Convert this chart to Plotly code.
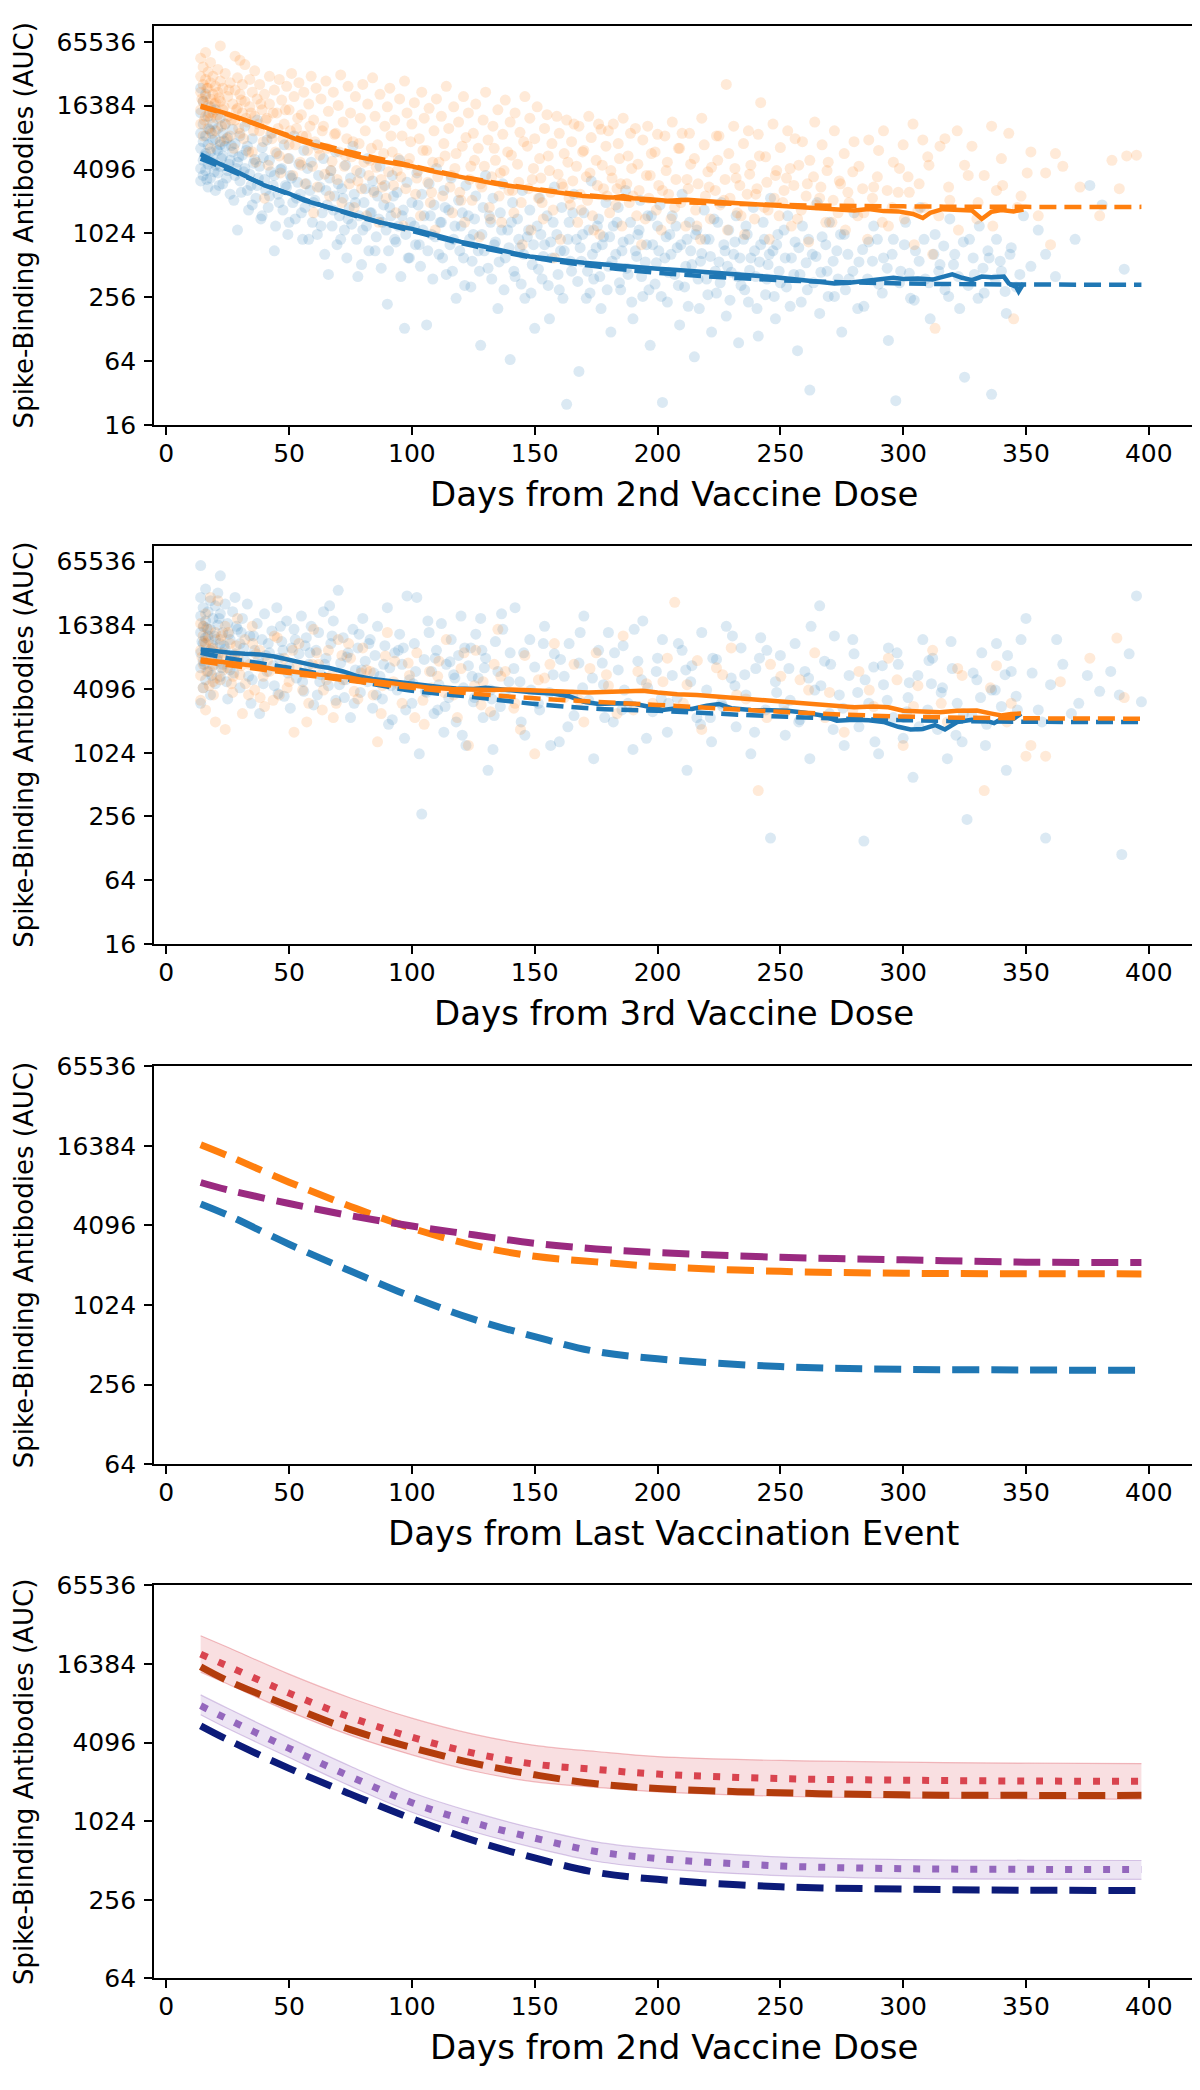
import math
import plotly.graph_objects as go

# ---------------- DATA ----------------
TICKS_Y_A = [16, 64, 256, 1024, 4096, 16384, 65536]
TICKS_Y_B = [64, 256, 1024, 4096, 16384, 65536]
TICKS_X = [0, 50, 100, 150, 200, 250, 300, 350, 400]

XLABELS = ["Days from 2nd Vaccine Dose", "Days from 3rd Vaccine Dose",
           "Days from Last Vaccination Event", "Days from 2nd Vaccine Dose"]
YLABEL = "Spike-Binding Antibodies (AUC)"

# Panel 1 scatter (days, AUC)
p1_orange_pts = [(14,46000),(14,31000),(14,22000),(14,15000),(14,11000),(15,38000),(15,26000),(15,18000),(15,8500),(16,52000),(16,29000),(16,20000),(16,13000),(17,34000),(17,24000),(17,16500),(17,10000),(18,42000),(18,27000),(18,19000),(18,12500),(18,6500),(19,31000),(19,21000),(19,14000),(20,25000),(20,17500),(20,9500),(21,36000),(21,22000),(21,13500),(22,60000),(22,28000),(22,18000),(22,7500),(23,24000),(23,15000),(24,33000),(24,11000),(25,20000),(25,13000),(26,27000),(26,8500),(27,17000),(28,48000),(28,23000),(28,12000),(29,30000),(29,15500),(30,44000),(30,21000),(30,9000),(31,26000),(31,14000),(32,40000),(32,18000),(33,11500),(34,29000),(34,16000),(35,22000),(35,6000),(36,35000),(36,13000),(37,19000),(38,26000),(38,9500),(39,15000),(40,21000),(40,2200),(41,12500),(42,31000),(42,17000),(43,8000),(44,23000),(45,14000),(46,29000),(46,5500),(47,18500),(48,11000),(49,25000),(50,15000),(50,7000),(51,33000),(52,20000),(53,10000),(54,27000),(55,13500),(55,4500),(56,22000),(57,8500),(58,17000),(59,31000),(60,12000),(60,1600),(61,24000),(62,6500),(63,19000),(64,10500),(65,28000),(66,14500),(67,4000),(68,22000),(69,9000),(70,16500),(71,32000),(72,11500),(73,5500),(74,25000),(75,14000),(76,7500),(77,20000),(78,3200),(79,12500),(80,26000),(81,9500),(82,17000),(83,5000),(84,30000),(85,13000),(86,7000),(87,21000),(88,2800),(89,10500),(90,16000),(91,24000),(92,6000),(93,12000),(94,4000),(95,19000),(96,8500),(97,28000),(98,14000),(99,5200),(100,11000),(101,17500),(102,3400),(103,8000),(104,22000),(105,12500),(106,6200),(107,15500),(108,2500),(109,9500),(110,19000),(111,4800),(112,13000),(113,7200),(114,25000),(115,10000),(116,3600),(117,16000),(118,5800),(119,11500),(120,2100),(121,20000),(122,8200),(123,14000),(124,4400),(125,9000),(126,17000),(127,6500),(128,3000),(129,12000),(130,22000),(131,7800),(132,1400),(133,10500),(134,5000),(135,15000),(136,3800),(137,8800),(138,18500),(139,6000),(140,11500),(141,2600),(142,14000),(143,4600),(144,9200),(145,800),(146,20000),(147,6800),(148,12500),(149,3300),(150,8000),(151,16000),(152,5200),(153,2000),(154,10000),(155,13500),(156,4000),(157,7200),(158,600),(159,13000),(160,9000),(161,3000),(162,5800),(163,12000),(164,2200),(165,7500),(166,11000),(167,4400),(168,10500),(169,1700),(170,6200),(171,3500),(172,13000),(173,8200),(174,1100),(175,5000),(176,11000),(177,9800),(178,2700),(179,6800),(180,9500),(181,4000),(182,11000),(183,1900),(184,7200),(185,3000),(186,12500),(188,5500),(189,9000),(190,2300),(191,10000),(192,4600),(194,7800),(195,1400),(196,10500),(197,3600),(199,6000),(200,8800),(202,2600),(203,8500),(204,4800),(206,11500),(207,1800),(209,6500),(210,9000),(212,3300),(213,9000),(215,5200),(216,1200),(218,12500),(219,7000),(221,2800),(222,4300),(224,8500),(225,8500),(227,2100),(228,26000),(229,5800),(231,10500),(232,3400),(234,1500),(235,7200),(237,9500),(238,4500),(240,2400),(241,8800),(242,17500),(244,5400),(245,1700),(247,11000),(248,3600),(250,6600),(251,2000),(253,9500),(254,4200),(256,8000),(257,1400),(259,7500),(261,3000),(262,5000),(264,11500),(266,2200),(267,7000),(269,4000),(271,1300),(272,9500),(274,3200),(276,5800),(278,2000),(280,7500),(282,4400),(284,1600),(286,7800),(288,2800),(290,6200),(292,9500),(294,1200),(296,4800),(298,2500),(300,7000),(302,3500),(304,11000),(306,1700),(308,7800),(310,5400),(312,650),(313,130),(315,6800),(317,8000),(319,2100),(322,9500),(325,4500),(328,6800),(330,1400),(333,3600),(336,10500),(338,2600),(340,5200),(343,9000),(345,160),(348,2300),(352,6000),(355,1500),(358,3800),(360,800),(362,5800),(365,4400),(372,2800),(380,1500),(385,5000),(388,2700),(391,5500),(395,5600)]
p1_orange_pts_b = [(14.5,19000),(15.5,12000),(16.5,24000),(17.5,14000),(18.5,9000),(19.5,17000),(20.5,12500),(21.5,19500),(22.5,10500),(23.5,16000),(24.5,8000),(25.5,23000),(26.5,12000),(27.5,6500),(28.5,15000),(29.5,10000),(30.5,18500),(31.5,8000),(32.5,12500),(33.5,6000),(34.5,14000),(35.5,9500),(36.5,4800),(37.5,11000),(38.5,17000),(39.5,7500),(40.5,12000),(41.5,4500),(42.5,9000),(43.5,14000),(44.5,6000),(45.5,10000),(46.5,3800),(47.5,8000),(48.5,15000),(49.5,5200),(50.5,9500),(51.5,3600),(52.5,7000),(53.5,12500),(54.5,4800),(55.5,8500),(56.5,3000),(57.5,6200),(58.5,10500),(59.5,4400),(60.5,7500),(61.5,2800),(62.5,5600),(63.5,9500),(64.5,3700),(65.5,6500),(66.5,2300),(67.5,4900),(68.5,8800),(69.5,3300),(70.5,6000),(71.5,2000),(72.5,4400),(73.5,8000),(74.5,3000),(75.5,5400),(76.5,1800),(77.5,4000),(78.5,7200),(79.5,2700),(80.5,4800),(81.5,1500),(82.5,3600),(83.5,6500),(84.5,2500),(85.5,4300),(86.5,1300),(87.5,3300),(88.5,5800),(89.5,2200),(90.5,3900),(91.5,8500),(92.5,2900),(93.5,1600),(94.5,5200),(95.5,3500),(96.5,1200),(97.5,2700),(98.5,4600),(99.5,7500),(101.5,2400),(102.5,4000),(103.5,1500),(104.5,6200),(106.5,3100),(107.5,2000),(108.5,4800),(109.5,1100),(110.5,3500),(112.5,2300),(113.5,5500),(115.5,2800),(116.5,1600),(117.5,4200),(119.5,2500),(120.5,6800),(121.5,1300),(123.5,3300),(124.5,2100),(125.5,5000),(127.5,950),(128.5,2800),(129.5,4400),(131.5,1800),(132.5,3500),(133.5,6500),(135.5,2300),(136.5,1300),(137.5,4000),(139.5,2600),(140.5,5600),(141.5,1600),(143.5,3100),(144.5,2000),(145.5,7500),(147.5,2700),(148.5,1100),(149.5,4200),(151.5,2200),(152.5,3400),(153.5,1400),(155.5,5500),(156.5,2500),(157.5,1700),(159.5,3700),(160.5,900),(161.5,2800),(163.5,4800),(164.5,1900),(165.5,3200),(167.5,1300),(168.5,2400),(169.5,6000),(171.5,2100),(172.5,3800),(173.5,1500),(175.5,2900),(176.5,1000),(177.5,4500),(179.5,2300),(180.5,1600),(181.5,3400),(183.5,2700),(184.5,5200),(185.5,1200),(187.5,3000),(188.5,2000),(189.5,4200),(191.5,1500),(192.5,2600),(193.5,800),(195.5,3600),(196.5,2200),(197.5,5800),(199.5,1700),(200.5,2900),(201.5,1100),(203.5,4000),(204.5,2400),(205.5,1400),(207.5,3300),(208.5,6500),(209.5,2000),(211.5,1200),(212.5,2700),(213.5,4600),(215.5,1700),(216.5,3000),(217.5,900),(219.5,2300),(220.5,3900),(221.5,1400),(223.5,2600),(224.5,5000),(225.5,1900),(227.5,3300),(228.5,1100),(229.5,2200),(231.5,4200),(232.5,1600),(233.5,2900),(235.5,1000),(236.5,2400),(237.5,3700),(239.5,1400),(240.5,2700),(241.5,5500),(243.5,1800),(244.5,3100),(245.5,900),(247.5,2200),(248.5,4000),(249.5,1500),(251.5,2600),(252.5,3400),(254.5,1200),(255.5,2900),(257.5,4500),(258.5,1700),(260.5,2300),(261.5,850),(263.5,3500),(264.5,1900),(266.5,2800),(268.5,1300),(269.5,4800),(271.5,2100),(273.5,1600),(274.5,3000),(276.5,1100),(277.5,2500),(279.5,3900),(281.5,1500),(283.5,2700),(285.5,900),(287.5,2200),(289.5,3500),(291.5,1300),(293.5,2600),(295.5,1800),(298.5,4200),(300.5,1400),(302.5,2500),(304.5,800),(306.5,3000),(308.5,1800),(310.5,4500),(314.5,1500),(318.5,2800),(322.5,1100),(326.5,3600),(330.5,2000),(336.5,1200),(340.5,2900),(346.5,1800),(350.5,3800)]

p1_blue_pts = [(14,24000),(14,14000),(14,9000),(14,6500),(14,4200),(14,3200),(15,18000),(15,11000),(15,7500),(15,5000),(15,3600),(16,21000),(16,8500),(16,5800),(16,4000),(17,13000),(17,7000),(17,4600),(17,2800),(18,16000),(18,9500),(18,6000),(18,3400),(19,11000),(19,7800),(19,5200),(20,15000),(20,8000),(20,4500),(20,2600),(21,10000),(21,6200),(21,3800),(22,12500),(22,7000),(22,4400),(23,9000),(23,5500),(23,3000),(24,11000),(24,6800),(25,4000),(25,8200),(26,5000),(26,2400),(27,9800),(27,6000),(28,3600),(28,7200),(29,4800),(29,1100),(30,8500),(30,3200),(31,5600),(32,10500),(32,4200),(33,2600),(33,6800),(34,3700),(35,8000),(35,1900),(36,5100),(37,2900),(37,12000),(38,4400),(39,6600),(39,1500),(40,3300),(41,7800),(42,2300),(42,5000),(43,9000),(44,3600),(44,700),(45,5800),(46,2000),(47,4200),(48,7000),(49,2800),(50,1300),(50,5200),(51,3400),(52,8500),(53,2200),(54,4600),(55,1600),(56,6200),(57,3000),(58,900),(59,4800),(60,2000),(61,7000),(62,3600),(63,1200),(64,5200),(65,2600),(66,420),(67,4000),(68,1700),(69,6000),(70,3000),(71,900),(72,2200),(73,4500),(74,1400),(75,3400),(76,6800),(77,2000),(78,400),(79,3800),(80,1100),(81,2700),(82,5200),(83,1600),(84,3200),(85,700),(86,2300),(87,4400),(88,1300),(89,2900),(90,220),(91,1800),(92,3600),(93,900),(94,2500),(95,5000),(96,1500),(97,130),(98,3100),(99,600),(100,2000),(101,1200),(102,3800),(103,800),(104,2400),(105,1500),(106,140),(107,3000),(108,1000),(109,1900),(110,4200),(111,650),(112,1300),(113,2600),(114,420),(115,1700),(116,3400),(117,900),(118,250),(119,2100),(120,1200),(121,600),(122,2900),(123,1500),(124,320),(125,1000),(126,2300),(127,700),(128,90),(129,1800),(130,3600),(131,480),(132,1300),(133,2200),(134,850),(135,200),(136,1600),(137,3000),(138,600),(139,1100),(140,66),(141,2000),(142,400),(143,1400),(144,750),(145,2600),(146,250),(147,950),(148,1700),(149,520),(150,130),(151,1200),(152,2200),(153,380),(154,800),(155,1500),(156,160),(157,600),(158,2800),(159,1000),(160,300),(161,1800),(162,700),(163,25),(164,1300),(165,450),(166,2400),(167,900),(168,51),(169,560),(170,1600),(171,250),(172,1100),(173,3200),(174,380),(175,750),(176,1400),(177,200),(178,950),(179,2000),(180,500),(181,120),(182,1200),(183,650),(184,1800),(185,300),(186,850),(187,2600),(188,420),(189,1300),(190,160),(191,700),(192,1000),(193,2100),(194,260),(195,550),(196,1500),(197,90),(198,800),(199,340),(200,1200),(201,1900),(202,26),(203,600),(204,230),(205,1000),(206,1500),(207,420),(208,750),(209,140),(210,2400),(211,320),(212,900),(213,1300),(214,520),(215,70),(216,1100),(217,200),(218,660),(219,1700),(220,380),(221,900),(222,120),(223,1400),(224,280),(225,550),(226,2000),(227,800),(228,170),(229,1100),(230,440),(231,650),(232,1500),(233,95),(234,330),(235,900),(236,1200),(237,230),(238,600),(239,1800),(240,400),(241,110),(242,800),(243,1300),(244,270),(245,520),(246,2200),(247,700),(248,160),(249,1000),(250,350),(252,600),(253,1500),(254,210),(256,850),(257,80),(258,420),(259,1200),(261,300),(262,34),(263,650),(265,2000),(266,180),(267,950),(269,450),(270,1300),(272,260),(273,700),(275,120),(276,1000),(278,380),(280,1600),(282,550),(284,210),(286,850),(288,1200),(290,340),(292,600),(294,100),(296,900),(297,27),(299,450),(301,1300),(303,250),(305,700),(307,1800),(309,380),(311,160),(313,1000),(315,520),(317,300),(319,1400),(321,650),(323,200),(325,45),(327,900),(329,420),(331,1200),(333,280),(335,600),(336,31),(338,900),(340,450),(342,180),(344,750),(346,320),(349,1500),(352,500),(355,1100),(358,650),(362,400),(370,900),(376,2900),(381,1900),(390,470)]
p1_blue_pts_b = [(15.5,5500),(16.5,3300),(17.5,9800),(18.5,4800),(19.5,3900),(20.5,6400),(21.5,2900),(22.5,5200),(23.5,7600),(24.5,3400),(25.5,4600),(26.5,6900),(27.5,2100),(28.5,4200),(29.5,5400),(30.5,2500),(31.5,3900),(32.5,6200),(33.5,1700),(34.5,2900),(35.5,4700),(36.5,2200),(37.5,3400),(38.5,1400),(39.5,5300),(40.5,2600),(41.5,1800),(42.5,3900),(43.5,2900),(44.5,1200),(45.5,2400),(46.5,4100),(47.5,1700),(48.5,2900),(49.5,1000),(50.5,3600),(51.5,2000),(52.5,1400),(53.5,3100),(54.5,2400),(55.5,900),(56.5,1800),(57.5,4200),(58.5,2600),(59.5,1300),(60.5,2100),(61.5,1000),(62.5,2800),(63.5,1600),(64.5,650),(65.5,1900),(66.5,3400),(67.5,1200),(68.5,2300),(69.5,800),(70.5,1500),(71.5,2700),(72.5,1100),(73.5,600),(74.5,1800),(75.5,1250),(76.5,2400),(77.5,900),(78.5,1500),(79.5,520),(80.5,2000),(81.5,1200),(82.5,700),(83.5,1600),(84.5,2600),(85.5,950),(86.5,1400),(87.5,480),(88.5,1900),(89.5,1100),(90.5,700),(91.5,1500),(92.5,2300),(93.5,850),(94.5,1200),(95.5,400),(96.5,1700),(97.5,1000),(98.5,600),(99.5,1300),(101.5,800),(102.5,1900),(103.5,500),(104.5,1100),(106.5,700),(107.5,1500),(108.5,380),(109.5,950),(111.5,1300),(112.5,600),(113.5,1800),(115.5,800),(116.5,450),(117.5,1200),(119.5,700),(120.5,1600),(121.5,330),(123.5,900),(124.5,560),(125.5,1400),(127.5,450),(128.5,1000),(129.5,700),(131.5,1500),(132.5,380),(133.5,800),(135.5,550),(136.5,1100),(137.5,300),(139.5,750),(140.5,1300),(141.5,450),(143.5,900),(144.5,340),(145.5,650),(147.5,1100),(148.5,280),(149.5,800),(151.5,470),(152.5,1000),(153.5,620),(155.5,330),(156.5,850),(157.5,1300),(159.5,420),(160.5,700),(161.5,250),(163.5,900),(164.5,560),(165.5,1600),(167.5,360),(168.5,750),(169.5,1000),(171.5,450),(172.5,280),(173.5,650),(175.5,1200),(176.5,400),(177.5,800),(179.5,300),(180.5,950),(181.5,560),(183.5,1300),(184.5,350),(185.5,700),(187.5,480),(188.5,900),(189.5,230),(191.5,620),(192.5,1100),(193.5,400),(195.5,800),(196.5,300),(197.5,1500),(199.5,540),(200.5,700),(201.5,260),(203.5,950),(204.5,440),(205.5,650),(207.5,1200),(208.5,330),(209.5,800),(211.5,500),(212.5,210),(213.5,700),(215.5,1000),(216.5,380),(217.5,560),(219.5,900),(220.5,270),(221.5,620),(223.5,450),(224.5,1300),(225.5,350),(227.5,700),(228.5,500),(229.5,240),(231.5,850),(232.5,400),(233.5,600),(235.5,300),(236.5,1000),(237.5,460),(239.5,700),(240.5,200),(241.5,550),(243.5,900),(244.5,380),(245.5,650),(247.5,260),(248.5,800),(249.5,450),(251.5,1100),(252.5,320),(254.5,600),(255.5,420),(257.5,750),(258.5,230),(260.5,540),(261.5,900),(263.5,350),(264.5,620),(266.5,440),(268.5,800),(269.5,260),(271.5,560),(273.5,380),(274.5,1000),(276.5,300),(277.5,650),(279.5,450),(281.5,200),(283.5,720),(285.5,380),(287.5,560),(289.5,900),(291.5,280),(293.5,480),(295.5,650),(298.5,350),(300.5,800),(302.5,430),(304.5,240),(306.5,560),(308.5,900),(310.5,350),(312.5,650),(314.5,450),(316.5,780),(318.5,260),(320.5,520),(322.5,400),(324.5,850),(326.5,330),(328.5,600),(330.5,250),(332.5,480),(334.5,700),(337.5,380),(339.5,560),(341.5,290),(343.5,650),(347.5,420)]

# Panel 2 scatter (days, AUC)
p2_blue_pts = [(14,60000),(14,30000),(14,20000),(14,14000),(14,9000),(14,6500),(14,3000),(15,24000),(15,16000),(15,11000),(15,7500),(15,4200),(16,36000),(16,18000),(16,12500),(16,8000),(16,5000),(17,22000),(17,13000),(17,6000),(18,28000),(18,15000),(18,9500),(18,3600),(19,19000),(19,10500),(19,6800),(20,25000),(20,12000),(20,4600),(21,33000),(21,16500),(21,8500),(22,48000),(22,21000),(22,11000),(22,5400),(23,14000),(23,7000),(24,26000),(24,9800),(25,17000),(25,3300),(26,12000),(26,6200),(27,22000),(28,30000),(28,8800),(29,15000),(30,4200),(30,11000),(31,19000),(32,7600),(33,26000),(34,13000),(35,5000),(36,9500),(37,17000),(38,7000),(38,2400),(39,12000),(40,21000),(41,6000),(42,9000),(43,14500),(44,4400),(45,24000),(46,8000),(47,11500),(48,3500),(49,18000),(50,6600),(51,10000),(52,15000),(53,5200),(54,8800),(55,20000),(56,3900),(57,12500),(58,7000),(59,16000),(60,2900),(61,9500),(62,14000),(63,5600),(64,22000),(65,8000),(66,4400),(67,11000),(68,18000),(69,3200),(70,35000),(71,7200),(72,12500),(73,5000),(74,9000),(75,2200),(76,15000),(77,6200),(78,10000),(79,3800),(80,19000),(81,7500),(82,4800),(83,12000),(84,2700),(85,8500),(86,16000),(87,5400),(88,3300),(89,10500),(90,24000),(91,6500),(92,2100),(93,9000),(94,4000),(95,13500),(96,7000),(97,1400),(98,31000),(99,5000),(100,3000),(101,11000),(102,30000),(103,1000),(104,270),(105,7800),(106,3800),(107,14000),(108,6000),(109,2400),(110,9500),(111,4500),(112,17000),(113,1600),(114,7000),(115,3400),(116,12000),(117,5600),(118,2000),(119,8500),(120,20000),(121,4200),(122,1200),(123,6800),(124,10000),(125,3100),(126,13500),(127,5200),(128,19000),(129,2200),(130,8000),(131,700),(132,4000),(133,1100),(134,11500),(135,6000),(136,2800),(137,15000),(138,3600),(140,9000),(142,24000),(144,4800),(146,1500),(148,12000),(150,6600),(152,2600),(154,16000),(156,3800),(158,8800),(160,1300),(162,5400),(164,11000),(166,2300),(168,7200),(170,20000),(172,3200),(174,900),(176,9500),(178,4500),(180,14000),(182,2000),(184,6200),(186,10500),(188,3000),(190,1100),(192,7500),(194,18000),(196,4200),(198,2500),(200,8000),(202,12000),(204,1600),(206,5500),(208,3400),(210,9500),(212,700),(214,6800),(216,2200),(218,14000),(220,4000),(222,1300),(224,7800),(226,3000),(228,16000),(230,5200),(232,1800),(234,10000),(236,3600),(238,1000),(240,6400),(242,12500),(244,2600),(246,160),(248,4800),(250,8500),(252,1500),(254,3200),(256,11000),(258,2100),(260,6000),(262,900),(264,4000),(266,25000),(268,7500),(270,2400),(272,13000),(274,3600),(276,1200),(278,5500),(280,8800),(282,1800),(284,150),(286,3000),(288,6600),(290,1000),(292,4500),(294,10000),(296,2200),(298,7000),(300,1400),(302,3400),(304,600),(306,5500),(308,12000),(310,2600),(312,8000),(314,1700),(316,4200),(318,900),(320,6400),(322,3000),(324,1300),(326,240),(328,2300),(330,5000),(332,9000),(334,1900),(336,4000),(338,11000),(340,2800),(342,700),(344,6000),(346,3500),(348,12000),(350,19000),(355,2600),(358,160),(360,4500),(365,7000),(375,5500),(380,3900),(388,3600),(389,112),(392,8800),(395,31000),(397,3100)]
p2_blue_pts_b = [(14.5,11500),(15.5,7000),(16.5,15500),(17.5,9000),(18.5,5500),(19.5,13000),(20.5,8000),(21.5,19000),(22.5,6500),(23.5,10500),(24.5,4800),(25.5,13500),(26.5,8500),(27.5,5800),(28.5,16000),(29.5,7200),(31.5,10000),(33.5,5400),(35.5,13000),(37.5,7800),(39.5,4600),(41.5,11000),(43.5,6800),(45.5,3700),(47.5,9500),(49.5,5800),(52.5,12000),(55.5,4800),(58.5,9000),(61.5,3600),(64.5,7000),(67.5,13000),(70.5,4500),(73.5,8200),(76.5,3000),(79.5,6200),(82.5,11000),(85.5,3600),(88.5,7000),(91.5,4400),(94.5,9500),(97.5,2600),(101.5,6000),(105.5,3900),(109.5,8000),(113.5,2800),(117.5,5200),(121.5,10000),(125.5,3400),(129.5,6500),(133.5,2300),(139.5,4800),(145.5,9000),(151.5,3000),(157.5,5600),(163.5,1800),(169.5,4200),(177.5,7200),(185.5,2600),(193.5,5000),(201.5,3300),(211.5,6200),(221.5,2200),(231.5,4400),(241.5,8000),(251.5,2900),(261.5,5200),(271.5,1700),(281.5,3800),(291.5,6800),(301.5,2500),(311.5,4600),(321.5,1500),(331.5,3400),(341.5,5600),(356.5,2000),(371.5,3000)]
p2_blue_pts_c = [(30.5,14000),(34.5,3000),(40.5,8500),(46.5,16000),(50.5,2700),(56.5,10500),(62.5,4800),(66.5,25000),(72.5,3400),(78.5,13500),(84.5,5800),(90.5,1900),(96.5,10000),(100.5,4600),(106.5,18000),(110.5,2600),(115.5,7400),(120.5,1500),(124.5,5400),(128.5,9500),(132.5,3300),(136.5,21000),(141.5,6400),(144.5,2000),(148.5,4000),(153.5,11000),(156.5,1200),(160.5,7800),(165.5,3600),(168.5,14000),(173.5,5200),(178.5,2200),(182.5,9000),(186.5,4000),(190.5,15000),(195.5,1400),(199.5,6000),(204.5,3000),(208.5,11000),(213.5,4800),(217.5,1900),(222.5,8000),(226.5,2800),(230.5,13000),(235.5,5600),(239.5,1600),(244.5,9500),(248.5,3800),(253.5,6400),(257.5,2000),(262.5,16000),(266.5,4400),(270.5,7000),(275.5,2700),(279.5,12000),(284.5,5000),(288.5,1300),(293.5,3200),(297.5,9000),(302.5,4700),(306.5,1800),(310.5,7600),(315.5,3800),(319.5,11500),(324.5,2400),(328.5,5800),(333.5,1200),(337.5,4000),(342.5,8500),(346.5,2600),(352.5,5800),(362.5,12000),(368.5,2400),(384.5,6000)]

p2_orange_pts = [(14,17000),(14,9500),(14,5500),(14,3200),(15,13000),(15,7000),(15,4200),(16,21000),(16,11000),(16,2600),(17,8000),(17,15000),(18,6000),(18,30000),(19,10000),(19,4800),(20,14000),(20,2000),(21,7500),(21,28000),(22,12000),(22,5000),(23,9000),(24,1700),(24,16000),(25,6500),(26,11000),(27,3800),(28,8500),(29,19000),(30,5600),(31,2400),(32,12000),(34,7000),(35,16000),(36,4000),(38,9500),(40,2800),(42,6000),(44,13000),(46,3600),(48,8000),(50,4800),(52,1600),(54,11000),(56,5800),(58,3000),(60,15000),(62,7000),(64,4000),(66,9500),(68,2200),(70,12000),(72,5000),(75,8000),(78,3300),(80,10000),(83,6000),(86,1300),(88,4400),(90,14000),(93,7500),(96,3000),(99,5500),(102,9000),(105,1900),(108,4200),(111,7500),(114,12000),(117,3600),(120,6400),(123,1200),(126,9500),(129,4800),(132,2500),(135,15000),(138,6000),(142,3000),(146,8500),(150,1000),(154,5200),(158,11000),(162,3400),(166,7000),(170,2000),(175,9000),(180,4400),(186,13000),(192,6000),(198,3000),(204,8000),(207,27000),(212,4500),(218,1700),(224,6500),(230,10000),(236,3300),(241,450),(246,7000),(252,2500),(258,5000),(264,9000),(270,3800),(276,1600),(282,6000),(288,2800),(294,8000),(300,1200),(306,4400),(312,9500),(318,2000),(324,5500),(333,450),(338,6800),(344,3000),(350,950),(352,1200),(358,950),(364,4800),(376,8000),(387,12400),(390,3400)]
p2_orange_pts_b = [(14.5,8200),(15.5,11500),(16.5,6000),(17.5,4400),(18.5,9800),(19.5,7000),(20.5,5200),(22.5,13000),(24.5,7800),(26.5,4600),(28.5,10500),(30.5,6800),(33.5,3600),(36.5,8800),(39.5,5400),(43.5,3200),(47.5,6400),(51.5,9500),(55.5,4000),(59.5,7000),(63.5,2600),(67.5,5600),(71.5,8500),(76.5,3900),(81.5,6200),(87.5,2400),(92.5,4800),(98.5,7200),(104.5,3200),(110.5,5400),(118.5,2200),(125.5,4400),(133.5,7000),(141.5,2700),(151.5,5000),(161.5,3600),(172.5,6400),(183.5,2400),(195.5,4600),(210.5,3000),(226.5,5600),(244.5,2200),(261.5,4000),(279.5,2600),(297.5,5000),(315.5,3000),(335.5,4200)]
p2_orange_pts_c = [(15.2,16000),(17.2,12000),(19.2,3600),(21.2,9000),(23.2,6200),(25.2,14000),(27.2,5400),(29.2,8200),(32.2,4600),(35.2,11000),(38.2,3400),(41.2,7600),(45.2,12500),(49.2,4200),(53.2,6800),(57.2,2000),(61.2,9000),(65.2,5000),(69.2,3000),(74.2,11000),(79.2,5800),(84.2,3600),(89.2,8400),(95.2,4400),(101.2,2200),(107.2,6000),(113.2,3800),(121.2,9000),(128.2,2900),(136.2,5400),(144.2,1700),(156.2,7000),(168.2,3200),(179.2,5600),(190.2,2600),(202.2,4800),(216.2,7600),(232.2,3600),(250.2,5400),(268.2,2200),(286.2,4000),(304.2,2800),(322.2,6400),(342.2,2000)]

# Running (solid) lines (days, AUC)
p1_orange_run = [(14,16400),(18,15500),(22,14500),(26,13500),(30,12500),(35,11200),(40,10300),(45,9300),(50,8300),(55,7600),(60,7000),(66,6400),(72,5900),(78,5400),(85,5000),(92,4700),(100,4400),(107,4000),(114,3700),(120,3450),(127,3250),(134,3000),(141,2850),(148,2700),(155,2550),(162,2420),(170,2300),(176,2260),(182,2230),(186,2300),(190,2200),(197,2150),(204,2080),(212,2120),(220,2040),(228,2000),(236,1950),(244,1900),(252,1870),(260,1800),(268,1760),(275,1700),(280,1680),(286,1740),(292,1660),(298,1650),(304,1560),(308,1430),(311,1600),(316,1730),(322,1700),(328,1680),(332,1400),(336,1640),(340,1700),(345,1650),(349,1720)]
p1_blue_run = [(14,5700),(18,5100),(22,4600),(26,4200),(30,3800),(35,3300),(40,2900),(45,2650),(50,2430),(56,2100),(62,1900),(68,1750),(74,1600),(80,1450),(87,1300),(94,1200),(100,1130),(107,1020),(114,920),(120,850),(127,790),(134,720),(141,670),(148,620),(155,590),(162,560),(170,540),(176,525),(184,505),(192,490),(200,475),(208,462),(216,450),(224,432),(232,418),(240,408),(248,395),(256,380),(264,365),(272,345),(278,350),(284,362),(290,370),(296,390),(300,380),(306,385),(312,375),(316,400),(320,420),(324,390),(328,370),(332,400),(336,395),(341,400),(343,345),(346,320),(347,290),(349,345)]
p2_blue_run = [(14,9700),(20,9300),(26,9000),(32,8800),(38,8700),(44,8300),(50,7800),(56,7200),(62,6700),(66,6500),(72,6000),(78,5400),(84,5100),(90,4900),(96,4700),(100,4560),(106,4400),(112,4250),(118,4150),(125,4100),(130,4200),(136,4050),(142,3950),(150,3800),(158,3700),(164,3500),(170,3100),(176,2960),(184,3000),(191,2960),(196,2800),(202,2600),(208,2700),(214,2650),(220,2850),(225,2960),(230,2700),(238,2600),(246,2580),(253,2550),(260,2450),(267,2300),(273,2050),(280,2100),(286,2080),(292,2000),(298,1800),(303,1700),(308,1720),(313,1870),(317,1700),(322,2000),(328,2100),(333,2080),(337,1950),(341,2200),(345,2150),(348,2400)]
p2_orange_run = [(14,7800),(20,7500),(26,7300),(32,7000),(38,6700),(44,6300),(50,6000),(56,5800),(62,5600),(68,5500),(74,5300),(80,5000),(86,4800),(92,4600),(100,4400),(108,4200),(116,4100),(124,4050),(132,4000),(140,4050),(148,3950),(156,3900),(164,3850),(172,3800),(180,3820),(188,3900),(194,3950),(200,3800),(208,3650),(216,3600),(224,3480),(232,3350),(240,3300),(248,3150),(256,3100),(264,2950),(272,2850),(280,2750),(288,2800),(294,2750),(300,2550),(308,2500),(315,2470),(322,2550),(330,2560),(336,2400),(340,2300),(344,2380),(348,2400)]

# Model fits (dashed / dotted), shared day grid
FIT_DAYS = [14, 25, 50, 75, 100, 125, 150, 175, 200, 250, 300, 350, 397]
p1_orange_fit = [16000, 13500, 8600, 6000, 4450, 3350, 2700, 2300, 2070, 1900, 1840, 1820, 1820]
p1_blue_fit = [5200, 4100, 2400, 1550, 1080, 780, 600, 500, 435, 370, 345, 337, 336]
p2_blue_fit = [9000, 8000, 6500, 5000, 3950, 3440, 2960, 2670, 2550, 2250, 2080, 2010, 2000]
p2_orange_fit = [7500, 6900, 5800, 4900, 4200, 3700, 3350, 3100, 2900, 2500, 2250, 2170, 2150]
p3_orange = [16700, 13800, 8700, 5700, 3900, 2900, 2390, 2170, 2000, 1840, 1780, 1765, 1760]
p3_purple = [8650, 7600, 6000, 4850, 4050, 3480, 3000, 2720, 2550, 2350, 2250, 2160, 2150]
p3_blue = [5950, 4900, 2950, 1850, 1180, 800, 590, 455, 401, 350, 334, 330, 328]
p4_red_dash = [15600, 12200, 7800, 5150, 3750, 2850, 2320, 1980, 1820, 1690, 1630, 1615, 1615]
p4_red_dot = [19500, 15800, 9800, 6400, 4500, 3400, 2800, 2550, 2350, 2170, 2110, 2080, 2070]
p4_red_hi = [27000, 22000, 13700, 9000, 6300, 4750, 3900, 3500, 3200, 2990, 2900, 2850, 2830]
p4_red_lo = [14200, 11500, 7100, 4650, 3300, 2480, 2050, 1860, 1720, 1590, 1540, 1520, 1510]
p4_navy_dash = [5500, 4300, 2600, 1650, 1070, 730, 535, 415, 367, 322, 309, 303, 302]
p4_purple_dot = [7850, 6200, 3700, 2250, 1420, 1000, 760, 600, 530, 465, 443, 438, 436]
p4_purple_hi = [9500, 7500, 4450, 2700, 1700, 1200, 900, 710, 625, 545, 520, 514, 512]
p4_purple_lo = [6700, 5250, 3150, 1900, 1200, 850, 640, 505, 445, 392, 373, 368, 367]

# ---------------- STYLE ----------------
BLUE = "#1f77b4"
ORANGE = "#ff7f0e"
PURPLE3 = "#9a2a80"
RED_DASH = "#b33c0c"
RED_DOT = "#d9444f"
NAVY = "#0c1b79"
PURPLE_DOT = "#9467bd"
FONT = "DejaVu Sans"
OFF = 8                      # page body margin of the html page
W, H = 1200 - OFF, 2090 - OFF
X0, X1 = 154 - OFF, 1193 - OFF
PANELS = [(12, 416.5), (539, 943), (1067, 1470.5), (1593.5, 1992)]
XTITLE_Y = [487, 1013, 1540, 2062]

fig = go.Figure()


def split(pts):
    return [p[0] for p in pts], [p[1] for p in pts]


def scatter(pts, color, k):
    x, y = split(pts)
    fig.add_trace(go.Scatter(x=x, y=y, mode="markers", xaxis=f"x{k}", yaxis=f"y{k}",
                             marker=dict(color=color, size=11, opacity=0.16, line=dict(width=0)),
                             showlegend=False, hoverinfo="skip"))


def line(x, y, color, k, width, dash="solid", shape="linear"):
    fig.add_trace(go.Scatter(x=x, y=y, mode="lines", xaxis=f"x{k}", yaxis=f"y{k}",
                             line=dict(color=color, width=width, dash=dash, shape=shape),
                             showlegend=False, hoverinfo="skip"))


def band(lo, hi, color, edge, k):
    fig.add_trace(go.Scatter(x=FIT_DAYS, y=lo, mode="lines", xaxis=f"x{k}", yaxis=f"y{k}",
                             line=dict(color=edge, width=1.2, shape="spline"),
                             showlegend=False, hoverinfo="skip"))
    fig.add_trace(go.Scatter(x=FIT_DAYS, y=hi, mode="lines", xaxis=f"x{k}", yaxis=f"y{k}",
                             fill="tonexty", fillcolor=color,
                             line=dict(color=edge, width=1.2, shape="spline"),
                             showlegend=False, hoverinfo="skip"))


THIN_DASH = "17px,8px"
THICK_DASH = "27px,12px"
DOT = "7px,12px"

# Panel 1
scatter(p1_blue_pts + p1_blue_pts_b, BLUE, 1)
scatter(p1_orange_pts + p1_orange_pts_b, ORANGE, 1)
line(FIT_DAYS, p1_blue_fit, BLUE, 1, 4.5, THIN_DASH, "spline")
line(*split(p1_blue_run), BLUE, 1, 4.5)
line(FIT_DAYS, p1_orange_fit, ORANGE, 1, 4.5, THIN_DASH, "spline")
line(*split(p1_orange_run), ORANGE, 1, 4.5)

# Panel 2
scatter(p2_blue_pts + p2_blue_pts_b + p2_blue_pts_c, BLUE, 2)
scatter(p2_orange_pts + p2_orange_pts_b + p2_orange_pts_c, ORANGE, 2)
line(FIT_DAYS, p2_blue_fit, BLUE, 2, 4.5, THIN_DASH, "spline")
line(*split(p2_blue_run), BLUE, 2, 4.5)
line(FIT_DAYS, p2_orange_fit, ORANGE, 2, 4.5, THIN_DASH, "spline")
line(*split(p2_orange_run), ORANGE, 2, 4.5)

# Panel 3
line(FIT_DAYS, p3_blue, BLUE, 3, 7, THICK_DASH, "spline")
line(FIT_DAYS, p3_orange, ORANGE, 3, 7, THICK_DASH, "spline")
line(FIT_DAYS, p3_purple, PURPLE3, 3, 7, THICK_DASH, "spline")

# Panel 4
band(p4_red_lo, p4_red_hi, "rgba(217,68,79,0.17)", "rgba(217,68,79,0.35)", 4)
band(p4_purple_lo, p4_purple_hi, "rgba(148,103,189,0.17)", "rgba(148,103,189,0.35)", 4)
line(FIT_DAYS, p4_red_dash, RED_DASH, 4, 7, THICK_DASH, "spline")
line(FIT_DAYS, p4_red_dot, RED_DOT, 4, 7, DOT, "spline")
line(FIT_DAYS, p4_navy_dash, NAVY, 4, 7, THICK_DASH, "spline")
line(FIT_DAYS, p4_purple_dot, PURPLE_DOT, 4, 7, DOT, "spline")

axis_common = dict(showline=True, linecolor="black", linewidth=1.8, mirror=True,
                   ticks="outside", ticklen=8, tickwidth=1.8, tickcolor="black",
                   tickfont=dict(family=FONT, size=25, color="black"),
                   showgrid=False, zeroline=False)

layout = dict(width=W, height=H, margin=dict(l=0, r=0, t=0, b=0),
              paper_bgcolor="white", plot_bgcolor="white", showlegend=False,
              font=dict(family=FONT, color="black"))
annotations = []
for i, (top, bot) in enumerate(PANELS):
    k = i + 1
    sfx = "" if k == 1 else str(k)
    top, bot = top - OFF, bot - OFF
    dom_y = [1 - bot / H, 1 - top / H]
    if k <= 2:
        yt = TICKS_Y_A
        yr = [math.log10(16), math.log10(2 ** 16.5)]
    else:
        yt = TICKS_Y_B
        yr = [math.log10(64), math.log10(65536)]
    layout["xaxis" + sfx] = dict(axis_common, domain=[X0 / W, X1 / W], range=[-5, 418],
                                 tickvals=TICKS_X, ticktext=[str(t) for t in TICKS_X],
                                 ticklabelstandoff=-3, anchor="y" + sfx)
    layout["yaxis" + sfx] = dict(axis_common, domain=dom_y, type="log", range=yr,
                                 tickvals=yt, ticktext=[str(t) for t in yt],
                                 ticklabelstandoff=3, anchor="x" + sfx)
    annotations.append(dict(text=XLABELS[i], xref="paper", yref="paper",
                            x=(X0 + X1) / 2 / W, y=1 - (XTITLE_Y[i] - OFF) / H,
                            xanchor="center", yanchor="middle", showarrow=False,
                            font=dict(family=FONT, size=34, color="black")))
    annotations.append(dict(text=YLABEL, xref="paper", yref="paper",
                            x=0, y=1 - (top + bot) / 2 / H, textangle=-90,
                            xanchor="left", yanchor="middle", showarrow=False,
                            borderpad=0,
                            font=dict(family=FONT, size=26, color="black")))
layout["annotations"] = annotations
fig.update_layout(**layout)
fig.write_html("out.html")
